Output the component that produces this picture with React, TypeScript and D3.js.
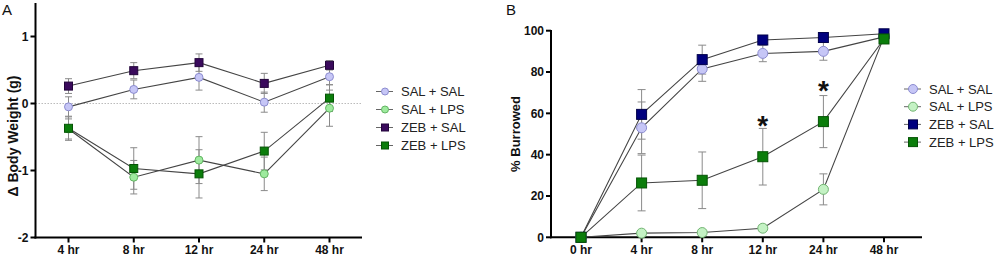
import React from "react";
import * as d3 from "d3";

// ---------- Panel A data ----------
const timesA = ["4 hr", "8 hr", "12 hr", "24 hr", "48 hr"];
const ticksA = [-2, -1, 0, 1];
const salSalA = [-0.05, 0.21, 0.39, 0.02, 0.4];
const salSalErrA = [0.15, 0.14, 0.19, 0.15, 0.12];
const salLpsA = [-0.38, -1.1, -0.845, -1.05, -0.07];
const salLpsErrA = [0.15, 0.25, 0.35, 0.25, 0.27];
const zebSalA = [0.26, 0.49, 0.61, 0.3, 0.57];
const zebSalErrA = [0.11, 0.12, 0.13, 0.15, 0.07];
const zebLpsA = [-0.37, -0.97, -1.05, -0.71, 0.08];
const zebLpsErrA = [0.18, 0.31, 0.36, 0.28, 0.2];

// ---------- Panel B data ----------
const timesB = ["0 hr", "4 hr", "8 hr", "12 hr", "24 hr", "48 hr"];
const ticksB = [0, 20, 40, 60, 80, 100];
const salSalB = [0, 53, 81.5, 89, 90, 97];
const salSalErrB = [0, 12.5, 6, 4, 4.3, 1.5];
const salLpsB = [0, 2, 2.3, 4.4, 23.2, 97];
const salLpsErrB = [0, 1, 1, 1.5, 7.5, 2];
const zebSalB = [0, 59.5, 86, 95.5, 96.7, 98.5];
const zebSalErrB = [0, 12, 7, 2, 1.5, 1];
const zebLpsB = [0, 26.3, 27.6, 39, 56, 96];
const zebLpsErrB = [0, 13.5, 13.7, 13.7, 12.6, 2];
const starTimesB = ["12 hr", "24 hr"];
const starValuesB = [57, 73.7];

const legendLabels = ["SAL + SAL", "SAL + LPS", "ZEB + SAL", "ZEB + LPS"];

const FONT = "Arial, 'Liberation Sans', sans-serif";

type Style = { shape: "circle" | "square"; fill: string; stroke: string };

const stylesA: Style[] = [
  { shape: "circle", fill: "#c6c6f6", stroke: "#8c8cd0" },
  { shape: "circle", fill: "#9eea9e", stroke: "#62b462" },
  { shape: "square", fill: "#3a0a5c", stroke: "#22043a" },
  { shape: "square", fill: "#0b7d0b", stroke: "#055405" },
];
const stylesB: Style[] = [
  { shape: "circle", fill: "#c6c6f6", stroke: "#8c8cd0" },
  { shape: "circle", fill: "#c4f2c4", stroke: "#72b472" },
  { shape: "square", fill: "#00007e", stroke: "#00004a" },
  { shape: "square", fill: "#0b7d0b", stroke: "#055405" },
];

function Marker({ x, y, s, size }: { x: number; y: number; s: Style; size: number }) {
  if (s.shape === "circle")
    return <circle cx={x} cy={y} r={size / 2} fill={s.fill} stroke={s.stroke} strokeWidth={1} />;
  return (
    <rect x={x - size / 2} y={y - size / 2} width={size} height={size} fill={s.fill} stroke={s.stroke} strokeWidth={1} />
  );
}

function Panel(props: {
  times: string[];
  series: number[][];
  errs: number[][];
  styles: Style[];
  x: d3.ScalePoint<string>;
  y: d3.ScaleLinear<number, number>;
  yTicks: number[];
  axisX0: number;
  axisX1: number;
  axisTop: number;
  size: number;
  capW: number;
  zeroLine?: boolean;
  title: string;
  titleX: number;
  titleY: number;
  titleSize: number;
  letter: string;
  letterX: number;
  legendX: number;
  legendY: number;
  legendStep: number;
}) {
  const { times, series, errs, styles, x, y, yTicks, axisX0, axisX1, axisTop, size, capW } = props;
  const base = y.range()[0];
  const line = d3
    .line<number>()
    .x((_, i) => x(times[i]) as number)
    .y((d) => y(d));
  return (
    <g>
      <text x={props.letterX} y={15} fontFamily={FONT} fontSize={15} fill="#111">
        {props.letter}
      </text>
      {props.zeroLine && (
        <line x1={axisX0} x2={axisX1} y1={y(0)} y2={y(0)} stroke="#bbb" strokeWidth={1} strokeDasharray="1.5,1.5" />
      )}
      {/* axes */}
      <line x1={axisX0} x2={axisX0} y1={axisTop} y2={base + 1} stroke="#000" strokeWidth={2} />
      <line x1={axisX0 - 1} x2={axisX1} y1={base} y2={base} stroke="#000" strokeWidth={2} />
      {yTicks.map((t) => (
        <g key={t}>
          <line x1={axisX0 - 5} x2={axisX0} y1={y(t)} y2={y(t)} stroke="#000" strokeWidth={2} />
          <text x={axisX0 - 7} y={y(t)} dy="0.35em" textAnchor="end" fontFamily={FONT} fontSize={12} fontWeight="bold" fill="#111">
            {t}
          </text>
        </g>
      ))}
      {times.map((t) => (
        <g key={t}>
          <line x1={x(t)} x2={x(t)} y1={base} y2={base + 5} stroke="#000" strokeWidth={2} />
          <text x={x(t)} y={254} textAnchor="middle" fontFamily={FONT} fontSize={12} fontWeight="bold" fill="#111">
            {t}
          </text>
        </g>
      ))}
      <text
        transform={`translate(${props.titleX},${props.titleY}) rotate(-90)`}
        textAnchor="middle"
        dy="0.35em"
        fontFamily={FONT}
        fontSize={props.titleSize}
        fontWeight="bold"
        fill="#111"
      >
        {props.title}
      </text>
      {/* series */}
      {series.map((vals, si) => (
        <g key={si}>
          <path d={line(vals) || ""} fill="none" stroke="#444" strokeWidth={1.1} />
          {vals.map((v, i) =>
            errs[si][i] > 0 ? (
              <g key={i} stroke="#8a8a8a" strokeWidth={1}>
                <line x1={x(times[i])} x2={x(times[i])} y1={y(v - errs[si][i])} y2={y(v + errs[si][i])} />
                <line x1={(x(times[i]) as number) - capW / 2} x2={(x(times[i]) as number) + capW / 2} y1={y(v - errs[si][i])} y2={y(v - errs[si][i])} />
                <line x1={(x(times[i]) as number) - capW / 2} x2={(x(times[i]) as number) + capW / 2} y1={y(v + errs[si][i])} y2={y(v + errs[si][i])} />
              </g>
            ) : null
          )}
        </g>
      ))}
      {series.map((vals, si) => (
        <g key={"m" + si}>
          {vals.map((v, i) => (
            <Marker key={i} x={x(times[i]) as number} y={y(v)} s={styles[si]} size={size} />
          ))}
        </g>
      ))}
      {/* legend */}
      {legendLabels.map((lab, i) => {
        const ly = props.legendY + i * props.legendStep;
        return (
          <g key={lab}>
            <line x1={props.legendX - 9} x2={props.legendX + 8} y1={ly} y2={ly} stroke="#666" strokeWidth={1} />
            <Marker x={props.legendX} y={ly} s={styles[i]} size={size - 1} />
            <text x={props.legendX + 16} y={ly} dy="0.36em" fontFamily={FONT} fontSize={13} fill="#222">
              {lab}
            </text>
          </g>
        );
      })}
    </g>
  );
}

export default function App() {
  const xA = d3.scalePoint<string>().domain(timesA).range([68.5, 329.5]);
  const yA = d3.scaleLinear().domain([-2, 1.5]).range([237.5, 3]);
  const xB = d3.scalePoint<string>().domain(timesB).range([581, 884]);
  const yB = d3.scaleLinear().domain([0, 100]).range([237.3, 30.7]);

  return (
    <svg
      width={1000}
      height={260}
      style={{ position: "absolute", left: 0, top: 0, background: "#fff", display: "block" }}
    >
      <rect width={1000} height={260} fill="#fff" />
      <Panel
        times={timesA}
        series={[salSalA, salLpsA, zebSalA, zebLpsA]}
        errs={[salSalErrA, salLpsErrA, zebSalErrA, zebLpsErrA]}
        styles={stylesA}
        x={xA}
        y={yA}
        yTicks={ticksA}
        axisX0={35.5}
        axisX1={362}
        axisTop={3}
        size={8}
        capW={7}
        zeroLine
        title="Δ Body Weight (g)"
        titleX={13}
        titleY={136}
        titleSize={14}
        letter="A"
        letterX={2}
        legendX={385}
        legendY={91.5}
        legendStep={18}
      />
      <Panel
        times={timesB}
        series={[salSalB, salLpsB, zebSalB, zebLpsB]}
        errs={[salSalErrB, salLpsErrB, zebSalErrB, zebLpsErrB]}
        styles={stylesB}
        x={xB}
        y={yB}
        yTicks={ticksB}
        axisX0={551}
        axisX1={922}
        axisTop={30}
        size={10}
        capW={8}
        title="% Burrowed"
        titleX={515}
        titleY={134}
        titleSize={13}
        letter="B"
        letterX={506}
        legendX={913}
        legendY={89}
        legendStep={17.7}
      />
      {starTimesB.map((t, i) => (
        <text
          key={t}
          x={xB(t)}
          y={yB(starValuesB[i]) + 15}
          textAnchor="middle"
          fontFamily={FONT}
          fontSize={28}
          fontWeight="bold"
          fill="#111"
        >
          *
        </text>
      ))}
    </svg>
  );
}
